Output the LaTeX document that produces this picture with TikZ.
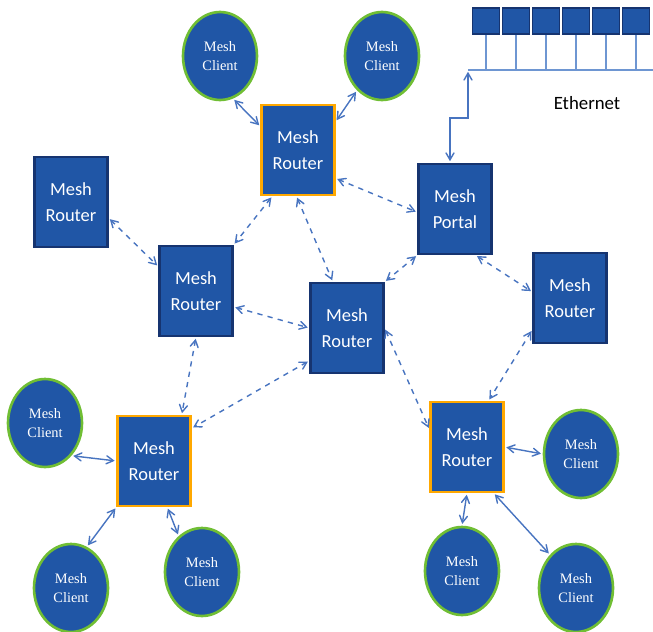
\documentclass[tikz,border=0pt]{standalone}
\usepackage{fontspec}
\setmainfont{Carlito}
\newfontfamily\clientfont{Liberation Serif}
\usetikzlibrary{arrows,shapes.geometric}

\definecolor{meshblue}{RGB}{32,86,166}
\definecolor{meshedge}{RGB}{22,52,112}
\definecolor{meshorange}{RGB}{255,168,0}
\definecolor{meshgreen}{RGB}{112,190,52}
\definecolor{linkblue}{RGB}{72,116,192}
\definecolor{busblue}{RGB}{110,150,210}

\begin{document}
\begin{tikzpicture}[x=0.02cm, y=-0.02cm, >=angle 60,
    router/.style={draw=meshedge, line width=1.2pt, fill=meshblue, minimum width=1.46cm, minimum height=1.8cm,
      inner sep=0pt, align=center, text=white, font=\fontsize{10.5}{14.7}\selectfont},
    hub/.style={router, draw=meshorange},
    client/.style={ellipse, draw=meshgreen, line width=1.5pt, fill=meshblue, minimum width=1.48cm, minimum height=1.76cm,
      inner sep=0pt, align=center, text=white, font=\clientfont\fontsize{8.2}{11.3}\selectfont},
    station/.style={draw=meshedge, line width=1pt, fill=meshblue, minimum width=0.54cm, minimum height=0.52cm, inner sep=0pt},
    link/.style={<->, linkblue, line width=0.8pt, shorten >=1pt, shorten <=1pt},
    wlink/.style={link, dashed}]
    \useasboundingbox (0,0) rectangle (653,632);

    \node[hub] (r1) at (298,150) {Mesh\\Router};
    \node[router] (r2) at (71,202) {Mesh\\Router};
    \node[router] (r3) at (196,291) {Mesh\\Router};
    \node[router] (r4) at (347,328) {Mesh\\Router};
    \node[router] (p) at (455,209) {Mesh\\Portal};
    \node[router] (r5) at (570,298) {Mesh\\Router};
    \node[hub] (r6) at (154,461) {Mesh\\Router};
    \node[hub] (r7) at (467,447) {Mesh\\Router};

    \node[client] (c1) at (220,56) {Mesh\\Client};
    \node[client] (c2) at (382,56) {Mesh\\Client};
    \node[client] (c3) at (45,423) {Mesh\\Client};
    \node[client] (c4) at (71,588) {Mesh\\Client};
    \node[client] (c5) at (202,572) {Mesh\\Client};
    \node[client] (c6) at (581,454) {Mesh\\Client};
    \node[client] (c7) at (462,571) {Mesh\\Client};
    \node[client] (c8) at (576,588) {Mesh\\Client};

    \coordinate (busl) at (468,70);
    \coordinate (busr) at (653,70);
    \coordinate (bend) at (450,118);
    \draw[busblue, line width=0.85pt] (busl) -- (busr);
    \foreach \i in {1,...,6} {
      \node[station] (s\i) at (456+30*\i,21) {};
      \draw[busblue, line width=0.85pt] (s\i) -- (s\i |- busl);
    }
    \node[font=\fontsize{10.7}{13}\selectfont] (eth) at (587,103) {Ethernet};
    \draw[link] (p.north -| bend) -- (bend) -- (bend -| busl) -- (busl);

    \draw[wlink] (r1.241) -- (r3.north east);
    \draw[wlink] (r1.268) -- (r4.107);
    \draw[wlink] (r1.-37) -- (p.185);
    \draw[wlink] (r2.-23) -- (r3.147);
    \draw[wlink] (r3.-23) -- (r4.west);
    \draw[wlink] (r3.south) -- (r6.59);
    \draw[wlink] (r4.221) -- (r6.41);
    \draw[wlink] (p.south west) -- (r4.north east);
    \draw[wlink] (p.-66) -- (r5.171);
    \draw[wlink] (r4.east) -- (r7.155);
    \draw[wlink] (r5.220) -- (r7.65);

    \draw[link] (c1.-73) -- (r1.148);
    \draw[link] (c2.234) -- (r1.37);
    \draw[link] (c3.-51) -- (r6.west);
    \draw[link] (r6.south west) -- (c4.69);
    \draw[link] (r6.-74) -- (c5.123);
    \draw[link] (r7.east) -- (c6.west);
    \draw[link] (r7.south) -- (c7.north);
    \draw[link] (r7.-60) -- (c8.128);
  \end{tikzpicture}
\end{document}
